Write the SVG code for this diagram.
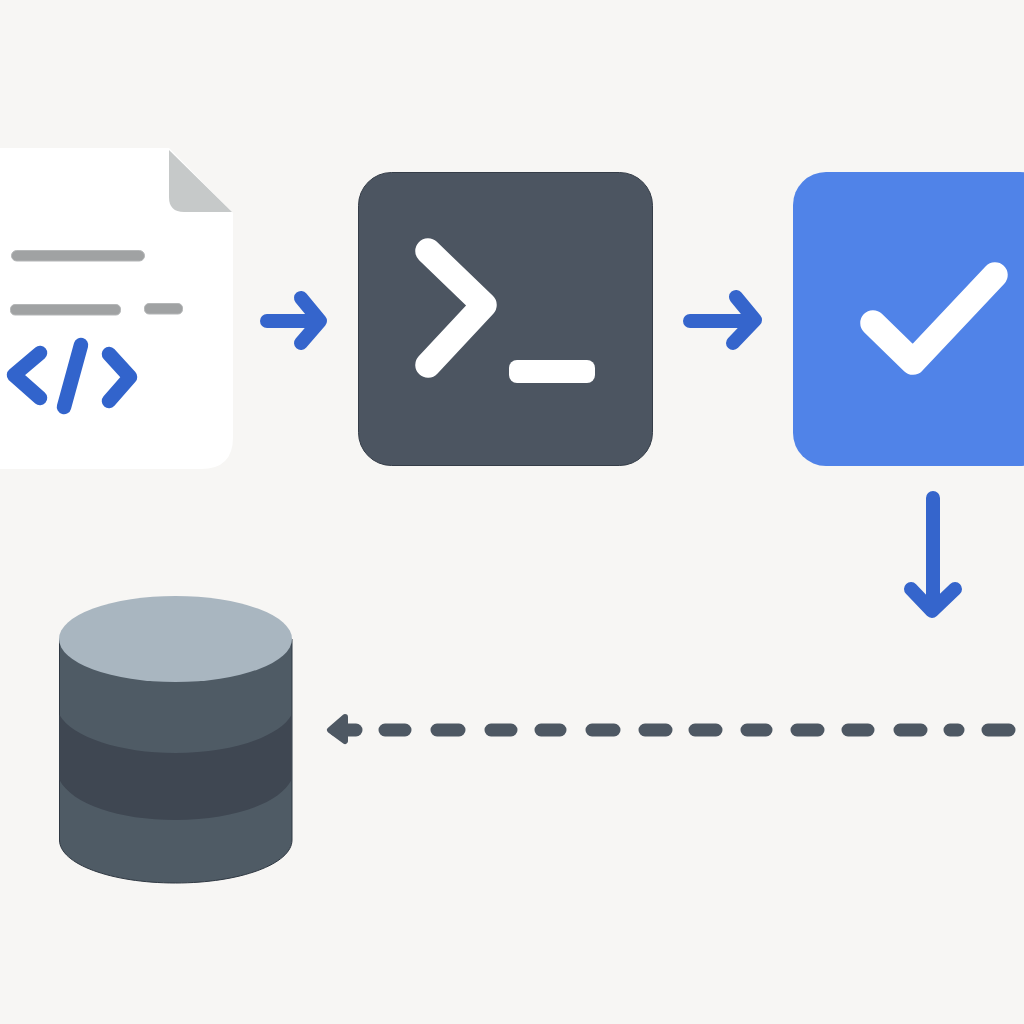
<svg xmlns="http://www.w3.org/2000/svg" width="1024" height="1024" viewBox="0 0 1024 1024">
<style>
.ln{fill:#a0a2a3;stroke:#b4b6b7;stroke-width:1}
.code{fill:none;stroke:#3264cc;stroke-width:14.500;stroke-linecap:round;stroke-linejoin:round}
.white{fill:none;stroke:#fff;stroke-width:25.500;stroke-linecap:round;stroke-linejoin:round}
.flow{fill:none;stroke:#3565cc;stroke-width:14;stroke-linecap:round;stroke-linejoin:round}
.dash{fill:none;stroke:#4e5863;stroke-width:13;stroke-linecap:round;stroke-linejoin:round}
.side{fill:#4f5b65}
.band{fill:#3f4752}
</style>
<rect width="1024" height="1024" fill="#f7f6f4"/>
<g id="document">
<path d="M-2 148H169L233 213V437Q233 469 201 469H-2Z" fill="#fff"/>
<path d="M169 150L232 212H184Q169 212 169 197Z" fill="#c6c9c9"/>
<rect class="ln" x="11.500" y="250.500" width="133" height="10.500" rx="5.200"/>
<rect class="ln" x="10.500" y="304.500" width="110" height="10.500" rx="4.500"/>
<rect class="ln" x="144.500" y="303.500" width="38" height="10.500" rx="4.500"/>
<path class="code" d="M40 353L14 375L40 398"/>
<path class="code" d="M81 345L64 407"/>
<path class="code" d="M109 354L130 377L109 401"/>
</g>
<g id="terminal">
<rect x="358.500" y="172.500" width="294" height="293" rx="33" fill="#4c5561" stroke="#353d48" stroke-width="1"/>
<path class="white" d="M428 251L484 305L428 365"/>
<rect x="509" y="360" width="86" height="23" rx="8" fill="#fff"/>
</g>
<g id="check">
<rect x="793" y="172" width="260" height="294" rx="33" fill="#5083e8"/>
<path class="white" d="M873 323L913 362L995 275"/>
</g>
<g id="database">
<path class="side" d="M59.500 639H292V840C292 864 240 883 175.500 883S59.500 864 59.500 840Z" stroke="#2f3842" stroke-width="1"/>
<path class="band" d="M59.500 715C72 737 120 753 175.500 753S279 737 291.500 715V780C279 804 232 820 175.500 820S72 804 59.500 780Z"/>
<ellipse cx="175.500" cy="639" rx="116.500" ry="43" fill="#a9b6c0"/>
</g>
<g id="connectors">
<path class="flow" d="M267 321H319M301 298L320 321L301 343"/>
<path class="flow" d="M690 321H754M736 297L755 320L733 343"/>
<path class="flow" d="M933 498V610M911 589L932 611L955 589"/>
<path class="dash" d="M385 730H405M437 730H459M491 730H511M541 730H560M592 730H614M645 730H666M695 730H716M747 730H766M797 730H818M848 730H868M900 730H921M950 730H958M988 730H1009"/>
<path class="dash" d="M356 730H336"/>
<path d="M345 717L330 730L345 741Z" fill="#4e5863" stroke="#4e5863" stroke-width="6" stroke-linejoin="round"/>
</g>
</svg>
